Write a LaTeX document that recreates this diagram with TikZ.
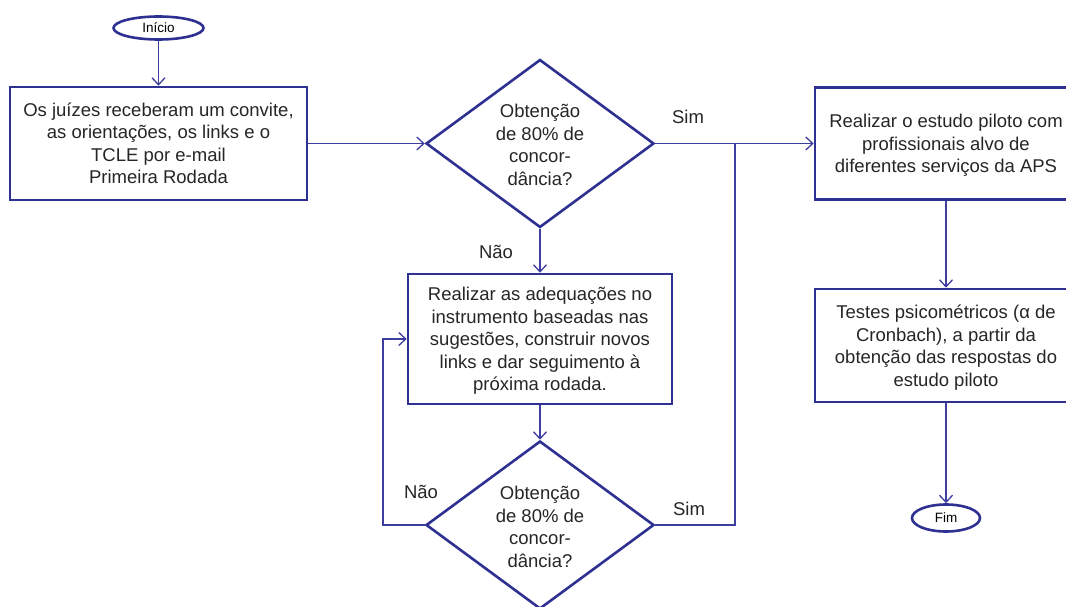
\documentclass[tikz,border=0pt]{standalone}
\usepackage{fontspec}
\setmainfont{Liberation Sans}
\usetikzlibrary{shapes.geometric,arrows.meta,positioning}
\definecolor{navy}{RGB}{46,49,146}
\definecolor{lnk}{RGB}{62,62,160}
\tikzset{
  procbox/.style={draw=navy,line width=2.6pt,rectangle,inner sep=0pt,fill=white},
  decis/.style={draw=navy,line width=2.6pt,diamond,inner sep=0pt,minimum width=228pt,minimum height=168pt,fill=white},
  term/.style={draw=navy,line width=2.6pt,ellipse,inner sep=0pt,fill=white,font=\fontsize{13.5}{16}\selectfont},
  body/.style={align=center,inner sep=0pt,font=\fontsize{18.5}{22.5}\selectfont,text=black!85},
  lbl/.style={inner sep=0pt,font=\fontsize{18.5}{22.5}\selectfont,text=black!85},
  conn/.style={draw=lnk,line width=1.3pt},
  arr/.style={conn,-{Straight Barb[length=7pt,width=13pt,line width=1.3pt]}}
}
\begin{document}
\begin{tikzpicture}[x=1pt,y=-1pt]
\useasboundingbox (0,0) rectangle (1066,607);
\fill[white] (0,0) rectangle (1066,607);
\clip (0,0) rectangle (1066,607);
% nodes
\node[term,minimum width=90pt,minimum height=23pt] (start) at (158.5,28) {Início};
\node[procbox,minimum width=297pt,minimum height=113pt] (b1) at (158.5,143.5) {};
\node[body] (b1t) at (b1.center) {Os juízes receberam um convite,\\as orientações, os links e o\\TCLE por e-mail\\Primeira Rodada};
\node[decis] (d1) at (540,143.5) {};
\node[body] (d1t) at (540,145) {Obtenção\\de 80\% de\\concor-\\dância?};
\node[procbox,minimum width=264pt,minimum height=130pt] (b2) at (540,339) {};
\node[body] (b2t) at (540,341) {Realizar as adequações no\\instrumento baseadas nas\\sugestões, construir novos\\links e dar seguimento à\\próxima rodada.};
\node[decis] (d2) at (540,525) {};
\node[body] (d2t) at (540,527) {Obtenção\\de 80\% de\\concor-\\dância?};
\node[procbox,minimum width=262pt,minimum height=112pt] (b3) at (946,143.5) {};
\node[body] (b3t) at (946,145.5) {Realizar o estudo piloto com\\profissionais alvo de\\diferentes serviços da APS};
\node[procbox,minimum width=262pt,minimum height=113pt] (b4) at (946,345.5) {};
\node[body] (b4t) at (946,347.5) {Testes psicométricos (α de\\Cronbach), a partir da\\obtenção das respostas do\\estudo piloto};
\node[term,minimum width=68pt,minimum height=27pt] (fim) at (946,518) {Fim};
% labels
\node[lbl] (sim1) at (688,117) {Sim};
\node[lbl] (nao1) at (496,252) {Não};
\node[lbl] (nao2) at (421,492) {Não};
\node[lbl] (sim2) at (689,509) {Sim};
% connectors
\coordinate (j1) at (735,143.5);
\coordinate (lp) at (383,525);
\draw[arr] (start.south) -- (b1.north);
\draw[arr] (b1.east) -- (d1.west);
\draw[conn] (d1.east) -- (j1);
\draw[arr] (j1) -- (b3.west);
\draw[arr] (d1.south) -- (b2.north);
\draw[arr] (b2.south) -- (d2.north);
\draw[arr] (d2.west) -- (lp) |- (b2.west);
\draw[conn] (d2.east) -| (j1);
\draw[arr] (b3.south) -- (b4.north);
\draw[arr] (b4.south) -- (fim.north);
\end{tikzpicture}
\end{document}
